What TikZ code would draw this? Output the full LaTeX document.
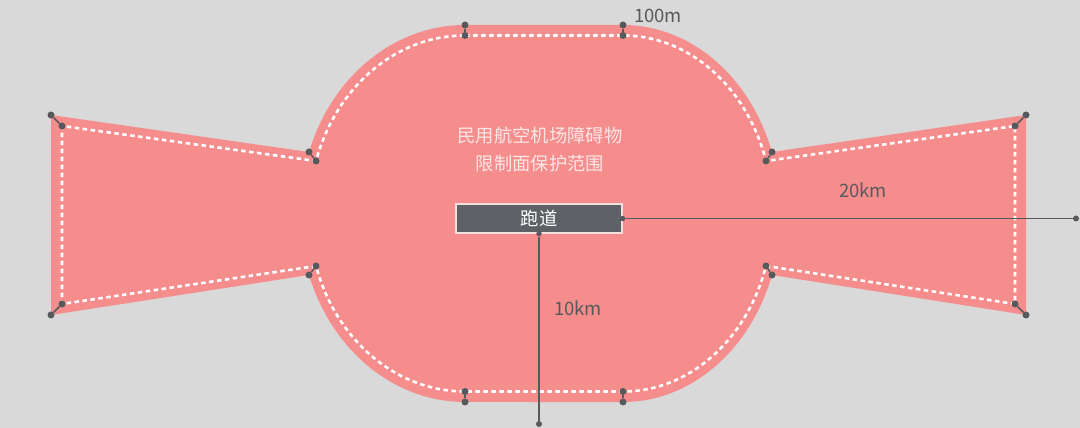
\documentclass[tikz,border=0pt]{standalone}
\usepackage{fontspec}
\setmainfont{Noto Sans CJK SC}
\definecolor{bg}{HTML}{D9D9D9}
\definecolor{zone}{HTML}{F68D8D}
\definecolor{dk}{HTML}{575A5D}
\definecolor{rw}{HTML}{5E6165}
\definecolor{rwb}{HTML}{FBE0E0}
\definecolor{titlec}{HTML}{FCE6E6}
\begin{document}
\begin{tikzpicture}[x=1pt,y=1pt,
  dot/.style={circle,fill=dk,inner sep=0pt,minimum size=7pt},
  tick/.style={draw=dk,line width=1.5pt},
  dim/.style={draw=dk,line width=1.2pt},
  lbl/.style={text=dk,font=\fontsize{18.5}{22}\selectfont},
  dashb/.style={draw=white,line width=2.6pt,dash pattern=on 4.5pt off 3.5pt}]
\fill[bg] (0,0) rectangle (1080,428);
\useasboundingbox (0,0) rectangle (1080,428);
% outer zone
\fill[zone] (465,403) -- (623,403)
  arc[start angle=90,end angle=19.04,x radius=157.6pt,y radius=188.5pt]
  -- (1026,313) -- (1026,113) -- (772,153)
  arc[start angle=-19.04,end angle=-90,x radius=157.6pt,y radius=188.5pt]
  -- (465,26)
  arc[start angle=-90,end angle=-160.96,x radius=165pt,y radius=188.5pt]
  -- (51,113) -- (51,313) -- (309,276)
  arc[start angle=160.96,end angle=90,x radius=165pt,y radius=188.5pt]
  -- cycle;
% inner dashed boundary
\draw[dashb] (465,392.5) -- (623,392.5)
  arc[start angle=90,end angle=17.15,x radius=149.7pt,y radius=178pt]
  -- (1015,302) -- (1015,124) -- (766,162)
  arc[start angle=-17.15,end angle=-90,x radius=149.7pt,y radius=178pt]
  -- (465,36.5)
  arc[start angle=-90,end angle=-162.85,x radius=155.9pt,y radius=178pt]
  -- (62,124) -- (62,302) -- (316,267)
  arc[start angle=162.85,end angle=90,x radius=155.9pt,y radius=178pt]
  -- cycle;
% corner marker pairs
\foreach \n/\ox/\oy/\ix/\iy in {
  a/465/403/465/392.5, b/623/403/623/392.5,
  c/465/26/465/36.5, d/623/26/623/36.5,
  e/309/276/316/267, f/309/153/316/162,
  g/51/313/62/302, h/51/113/62/124,
  i/772/276/766/267, j/772/153/766/162,
  k/1026/313/1015/302, l/1026/113/1015/124}{
  \node[dot] (o\n) at (\ox,\oy) {};
  \node[dot] (i\n) at (\ix,\iy) {};
  \draw[tick] (o\n) -- (i\n);
}
% title
\node[align=center,text=titlec,font=\fontsize{18.3}{28}\selectfont] (title) at (540,279) {民用航空机场障碍物\\限制面保护范围};
% runway
\node[draw=rwb,fill=rw,line width=1.2pt,minimum width=166pt,minimum height=29pt,inner sep=0pt,text=white,font=\fontsize{18.3}{20}\selectfont] (rw) at (539,209.5) {跑道};
\node[dot,minimum size=5.5pt] (rwe) at (rw.east) {};
\node[dot,minimum size=5.5pt] (rws) at (rw.south) {};
\node[dot,minimum size=6pt] (e1) at (1076,209.5) {};
\node[dot,minimum size=6pt] (e2) at (539,4) {};
\draw[dim] (rwe) -- (e1);
\draw[dim] (rws) -- (e2);
% labels
\node[lbl] (l100) at (658,412) {100m};
\node[lbl] (l20) at (863,238) {20km};
\node[lbl] (l10) at (578,120) {10km};
\end{tikzpicture}
\end{document}
